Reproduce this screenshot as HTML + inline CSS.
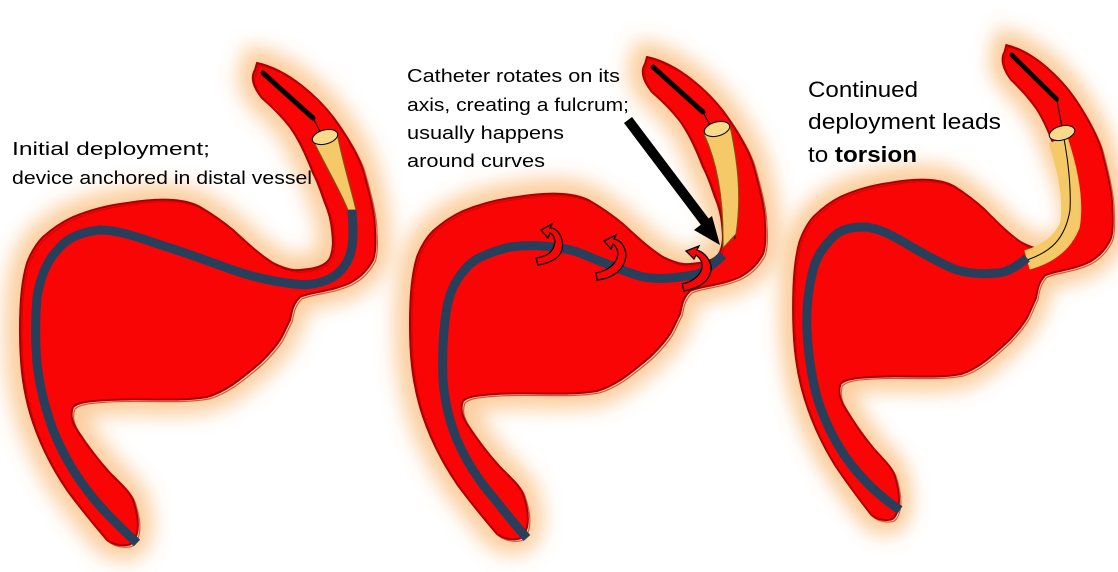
<!DOCTYPE html>
<html><head><meta charset="utf-8"><style>
html,body{margin:0;padding:0;background:#fff;}
svg{display:block}
text{font-family:"Liberation Sans",sans-serif;fill:#000;}
</style></head><body>
<svg width="1118" height="572" viewBox="0 0 1118 572" xmlns="http://www.w3.org/2000/svg">
<defs>
<filter id="glow" x="-20%" y="-20%" width="140%" height="140%"><feGaussianBlur stdDeviation="10"/></filter>
<path id="v" d="M257,63 C290,70 320,100 333,117 C350,140 360,160 363,170 C370,195 375,215 375,230 C376,245 375,255 373,260 C365,275 355,280 350,283 C330,292 310,292 300,297 C292,305 292,312 290,320 C285,330 283,335 280,340 C272,352 265,358 260,363 C240,380 225,392 207,397 C180,402 140,398 107,400 C90,401 78,402 73,407 C70,415 72,422 77,430 C90,450 100,462 110,473 C122,485 130,492 133,500 C138,515 139,525 137,533 C135,541 132,545 127,545 C120,546 112,544 107,540 C90,520 78,505 67,490 C50,465 38,440 30,413 C22,385 20,360 20,330 C20,300 22,280 27,263 C32,250 37,243 43,237 C53,228 62,222 73,217 C90,210 110,205 127,203 C145,200 160,199 173,200 C185,201 193,203 200,207 C212,214 222,221 233,230 C247,243 260,255 273,263 C283,268 292,271 300,270 C315,269 326,266 330,258 C334,248 333,240 332,230 C331,220 328,210 325,203 C321,192 318,182 313,173 C305,152 298,138 290,127 C280,114 270,105 262,98 C254,88 250,78 255,70 Z"/>
<g id="vessel">
<use href="#v" fill="none" stroke="#f9bb78" stroke-width="30" opacity="0.75" filter="url(#glow)"/>
<use href="#v" fill="#f90505" stroke="#a80000" stroke-width="2"/>
<use href="#v" fill="none" stroke="#c00000" stroke-width="1.2" transform="translate(2,2)" opacity="0.6"/>
</g>
</defs>

<!-- Panel 1 -->
<use href="#vessel"/>
<path d="M263,73 L313,118" stroke="#000" stroke-width="5" stroke-linecap="round"/>
<path d="M313,118 C325,140 340,170 352,210" stroke="#000" stroke-width="1" fill="none"/>
<path d="M313,140 L337,133 C342,160 350,185 356,210 L348,210 C340,190 325,165 313,140 Z" fill="#f5c868" stroke="#7a5a10" stroke-width="1"/>
<ellipse cx="325" cy="137" rx="13" ry="7" transform="rotate(-15 325 137)" fill="#f9d98a" stroke="#000" stroke-width="1"/>
<path d="M352,210 C354,240 355,262 333,277 C315,287 300,285 287,283 C265,280 250,276 233,270 C210,262 190,254 167,247 C140,238 120,230 100,230 C80,232 68,238 60,247 C45,262 40,280 37,297 C35,320 35,340 37,363 C40,390 46,410 53,430 C62,452 73,472 87,490 C100,508 118,525 137,543" fill="none" stroke="#283f5c" stroke-width="9"/>
<text x="12" y="155" font-size="18.5" textLength="198" lengthAdjust="spacingAndGlyphs">Initial deployment;</text>
<text x="12" y="184" font-size="18.5" textLength="300" lengthAdjust="spacingAndGlyphs">device anchored in distal vessel</text>

<!-- Panel 2 -->
<g transform="translate(390,-6)"><use href="#vessel"/>
<path d="M263,73 L313,118" stroke="#000" stroke-width="5" stroke-linecap="round"/>
<path d="M313,118 C325,140 340,170 345,245" stroke="#000" stroke-width="1" fill="none"/>
<path d="M314,140 L340,132 C347,165 352,200 346,240 L333,254 C334,210 328,170 314,140 Z" fill="#f5c868" stroke="#7a5a10" stroke-width="1"/>
<ellipse cx="327" cy="135" rx="13" ry="7" transform="rotate(-15 327 135)" fill="#f9d98a" stroke="#000" stroke-width="1"/>
</g>
<path d="M723,255 C710,268 700,274 693,275 C675,278 660,280 643,277 C625,272 610,265 597,260 C585,255 575,250 560,248 C540,245 525,245 510,247 C490,252 475,258 467,267 C455,280 450,292 447,307 C443,330 442,355 443,380 C445,405 450,422 457,440 C468,465 480,482 493,497 C505,512 515,525 527,538" fill="none" stroke="#283f5c" stroke-width="9"/>
<g fill="#f90505" stroke="#000" stroke-width="1.3">
<path d="M538,265 C555,262 565,255 562,240 C560,232 555,228 550,228 L552,224 L541,230 L548,238 L550,233 C554,235 556,240 554,246 C552,253 545,257 536,258 Z"/>
<path d="M597,280 C615,278 625,268 626,255 C625,245 620,240 614,239 L616,235 L604,241 L611,249 L613,244 C617,247 619,252 617,258 C614,266 606,271 596,273 Z"/>
<path d="M684,291 C700,288 712,280 711,266 C709,257 703,252 697,250 L699,246 L686,251 L694,259 L696,255 C700,258 703,262 702,268 C700,276 692,282 682,284 Z"/>
</g>
<path d="M628,120 L705,222" stroke="#000" stroke-width="10"/>
<polygon points="694,230 720,245 712,216" fill="#000"/>
<text x="407" y="82" font-size="18.5" textLength="213" lengthAdjust="spacingAndGlyphs">Catheter rotates on its</text>
<text x="407" y="111" font-size="18.5" textLength="222" lengthAdjust="spacingAndGlyphs">axis, creating a fulcrum;</text>
<text x="407" y="139" font-size="18.5" textLength="157" lengthAdjust="spacingAndGlyphs">usually happens</text>
<text x="407" y="167" font-size="18.5" textLength="138" lengthAdjust="spacingAndGlyphs">around curves</text>

<!-- Panel 3 -->
<g transform="translate(775,-17) scale(0.9,0.985)"><use href="#vessel"/>
<path d="M263,73 L313,118" stroke="#000" stroke-width="5" stroke-linecap="round"/>
</g>
<path d="M1058,140 C1068,170 1074,200 1070,225 C1062,245 1045,255 1027,260" fill="none" stroke="#f5c868" stroke-width="20"/>
<path d="M1057,100 C1062,130 1072,170 1070,210 C1065,240 1050,252 1027,260" stroke="#000" stroke-width="1" fill="none"/>
<ellipse cx="1062" cy="133" rx="13" ry="7" transform="rotate(-15 1062 133)" fill="#f9d98a" stroke="#000" stroke-width="1"/>
<path d="M1027,258 C1015,268 1005,273 997,273 C985,274 970,274 957,270 C943,265 930,257 917,250 C900,240 880,227 863,227 C850,227 840,230 833,237 C822,248 816,258 813,270 C808,290 806,310 807,330 C808,352 811,375 817,397 C824,420 835,443 850,463 C865,483 882,498 900,510" fill="none" stroke="#283f5c" stroke-width="9"/>
<text x="808" y="97" font-size="22.5" textLength="110" lengthAdjust="spacingAndGlyphs">Continued</text>
<text x="808" y="129" font-size="22.5" textLength="193" lengthAdjust="spacingAndGlyphs">deployment leads</text>
<text x="808" y="162" font-size="22.5" textLength="109" lengthAdjust="spacingAndGlyphs">to <tspan font-weight="bold">torsion</tspan></text>
</svg>
</body></html>
